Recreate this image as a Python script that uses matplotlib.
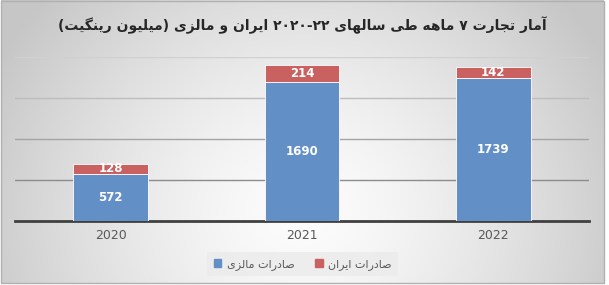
import numpy as np
import matplotlib.pyplot as plt
from matplotlib.patches import Patch, Rectangle

# data
years = ['2020', '2021', '2022']
malaysia_exports = [572, 1690, 1739]
iran_exports = [128, 214, 142]
title_fa = 'آمار تجارت ۷ ماهه طی سالهای ۲۰۲۰-۲۲ ایران و مالزی (میلیون رینگیت)'
legend_fa = ['صادرات مالزی', 'صادرات ایران']

# matplotlib has no arabic shaping, so map letters to presentation forms
# (isolated, final, initial, medial) and lay the words out right to left
FORMS = {
    '\u0622': ('\uFE81', '\uFE82', None, None),
    '\u0627': ('\uFE8D', '\uFE8E', None, None),
    '\u0628': ('\uFE8F', '\uFE90', '\uFE91', '\uFE92'),
    '\u062A': ('\uFE95', '\uFE96', '\uFE97', '\uFE98'),
    '\u062C': ('\uFE9D', '\uFE9E', '\uFE9F', '\uFEA0'),
    '\u062F': ('\uFEA9', '\uFEAA', None, None),
    '\u0631': ('\uFEAD', '\uFEAE', None, None),
    '\u0632': ('\uFEAF', '\uFEB0', None, None),
    '\u0633': ('\uFEB1', '\uFEB2', '\uFEB3', '\uFEB4'),
    '\u0635': ('\uFEB9', '\uFEBA', '\uFEBB', '\uFEBC'),
    '\u0637': ('\uFEC1', '\uFEC2', '\uFEC3', '\uFEC4'),
    '\u0644': ('\uFEDD', '\uFEDE', '\uFEDF', '\uFEE0'),
    '\u0645': ('\uFEE1', '\uFEE2', '\uFEE3', '\uFEE4'),
    '\u0646': ('\uFEE5', '\uFEE6', '\uFEE7', '\uFEE8'),
    '\u0647': ('\uFEE9', '\uFEEA', '\uFEEB', '\uFEEC'),
    '\u0648': ('\uFEED', '\uFEEE', None, None),
    '\u06CC': ('\uFBFC', '\uFBFD', '\uFBFE', '\uFBFF'),
    '\u06AF': ('\uFB92', '\uFB93', '\uFB94', '\uFB95'),
}
MIRROR = {'(': ')', ')': '('}


def shape_word(word):
    out = []
    for i, c in enumerate(word):
        if c not in FORMS:
            out.append(c)
            continue
        prev = word[i - 1] if i > 0 else ''
        nxt = word[i + 1] if i + 1 < len(word) else ''
        dual = FORMS[c][2] is not None
        joins_prev = prev in FORMS and FORMS[prev][2] is not None
        joins_next = dual and nxt in FORMS
        if joins_prev and joins_next:
            out.append(FORMS[c][3])
        elif joins_prev:
            out.append(FORMS[c][1])
        elif joins_next:
            out.append(FORMS[c][2])
        else:
            out.append(FORMS[c][0])
    return out


def rtl(text):
    text = text.replace('\u064A', '\u06CC').replace('\u0643', '\u06A9')
    words = []
    for w in text.split(' '):
        if any(ch in FORMS for ch in w):
            chars = shape_word(w)[::-1]
            words.append(''.join(MIRROR.get(ch, ch) for ch in chars))
        else:
            words.append(w)
    return ' '.join(words[::-1])


fig = plt.figure(figsize=(6.09, 2.85), dpi=100)
fig.patch.set_facecolor('white')

# gradient background of the chart area
bg = fig.add_axes([0, 0, 1, 1], zorder=-10)
gx, gy = np.meshgrid(np.linspace(0, 1, 300), np.linspace(0, 1, 150))
d = np.sqrt(((gx - 0.5) / 0.55) ** 2 + ((gy - 0.75) / 1.1) ** 2)
shade = np.clip(0.99 - 0.2 * d ** 1.4, 0.78, 1)
bg.imshow(np.dstack([shade] * 3), extent=[0.002, 0.992, 0.006, 0.996],
          origin='upper', aspect='auto', interpolation='bilinear')
bg.add_patch(Rectangle((0.002, 0.006), 0.99, 0.99, fill=False,
                       edgecolor='#b0b0b0', linewidth=1))
bg.set_xlim(0, 1)
bg.set_ylim(0, 1)
bg.axis('off')

ax = fig.add_axes([0.0246, 0.2246, 0.9425, 0.5754])
ax.patch.set_alpha(0)
x = np.arange(len(years))
b1 = ax.bar(x, malaysia_exports, 0.39, color='#6290c6', edgecolor='white',
            linewidth=0.6, zorder=3)
b2 = ax.bar(x, iran_exports, 0.39, bottom=malaysia_exports, color='#c8615f',
            edgecolor='white', linewidth=0.6, zorder=3)
ax.bar_label(b1, label_type='center', color='white', fontsize=8.5,
             fontweight='bold')
ax.bar_label(b2, label_type='center', color='white', fontsize=8.5,
             fontweight='bold')

ax.set_xlim(-0.5, 2.5)
ax.set_ylim(0, 2000)
ax.set_yticks([500, 1000, 1500, 2000])
ax.set_yticklabels([])
ax.grid(axis='y', linewidth=1, zorder=0)
for gl, col in zip(ax.get_ygridlines(), ['#8c8c8c', '#a4a4a4', '#bdbdbd', '#d0d0d0']):
    gl.set_color(col)
ax.set_xticks(x)
ax.set_xticklabels(years)
ax.tick_params(axis='both', length=0)
ax.tick_params(axis='x', colors='#595959', labelsize=9, pad=6)
for s in ['left', 'right', 'top']:
    ax.spines[s].set_visible(False)
ax.spines['bottom'].set_color('#404040')
ax.spines['bottom'].set_linewidth(2)

fig.text(0.497, 0.912, rtl(title_fa), ha='center', va='center', fontsize=10,
         fontweight='bold', color='#262626')

handles = [Patch(color='#6290c6'), Patch(color='#c8615f')]
leg = fig.legend(handles, [rtl(t) for t in legend_fa], loc='center',
                 bbox_to_anchor=(0.497, 0.073), ncol=2, frameon=True,
                 fontsize=8, handlelength=0.7, handleheight=0.7,
                 handletextpad=0.5, columnspacing=1.8, borderpad=0.6)
leg.get_frame().set_facecolor('#ebebeb')
leg.get_frame().set_edgecolor('none')
leg.get_frame().set_alpha(0.8)
for t in leg.get_texts():
    t.set_color('#595959')

fig.savefig('out.png', dpi=100)
